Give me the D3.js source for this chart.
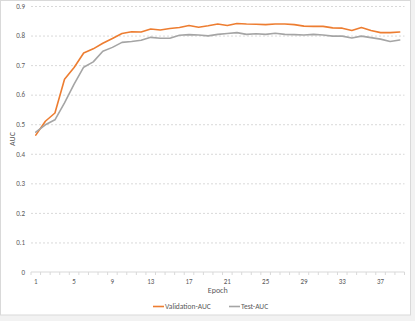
<!DOCTYPE html>
<html>
<head>
<meta charset="utf-8">
<script src="https://cdn.jsdelivr.net/npm/d3@7"></script>
<style>
  body { margin: 0; background: #f2f2f2; }
  text { font-family: Calibri, Carlito, "Liberation Sans", Arial, sans-serif; }
</style>
</head>
<body>
<svg id="chart"></svg>
<script>
var epochs = d3.range(1, 40);
var validationAUC = [0.463, 0.51, 0.538, 0.652, 0.692, 0.741, 0.755, 0.774, 0.79, 0.807,
  0.813, 0.812, 0.822, 0.819, 0.824, 0.827, 0.834, 0.828, 0.833, 0.839,
  0.834, 0.841, 0.839, 0.838, 0.837, 0.839, 0.839, 0.837, 0.832, 0.831,
  0.831, 0.826, 0.825, 0.817, 0.827, 0.817, 0.81, 0.81, 0.812];
var testAUC = [0.473, 0.498, 0.515, 0.572, 0.636, 0.693, 0.711, 0.747, 0.76, 0.777,
  0.78, 0.784, 0.794, 0.791, 0.791, 0.801, 0.803, 0.802, 0.799, 0.804,
  0.807, 0.81, 0.804, 0.806, 0.804, 0.808, 0.804, 0.803, 0.802, 0.804,
  0.802, 0.798, 0.798, 0.792, 0.798, 0.793, 0.788, 0.78, 0.785];
var yTicks = [0, 0.1, 0.2, 0.3, 0.4, 0.5, 0.6, 0.7, 0.8, 0.9];
var series = [
  { name: "Validation-AUC", values: validationAUC, color: "#ED7D31" },
  { name: "Test-AUC", values: testAUC, color: "#A5A5A5" }
];

var svgWidth = 415, svgHeight = 321;
var plotLeft = 31, plotRight = 404.5, plotTop = 6, plotBottom = 272;

var svg = d3.select("#chart").attr("width", svgWidth).attr("height", svgHeight);

svg.append("rect")
  .attr("x", 0.5).attr("y", 0.5)
  .attr("width", 410).attr("height", 314.5)
  .attr("fill", "#fff").attr("stroke", "#d9d9d9");

var x = d3.scaleBand().domain(epochs).range([plotLeft, plotRight]);
var y = d3.scaleLinear().domain([0, 0.9]).range([plotBottom, plotTop]);

// grid + y labels
svg.append("g")
  .attr("transform", "translate(" + plotLeft + ",0)")
  .call(d3.axisLeft(y).tickValues(yTicks).tickSize(-(plotRight - plotLeft)).tickPadding(6)
    .tickFormat(function (d) { return d === 0 ? "0" : d3.format(".1f")(d); }))
  .call(function (g) {
    g.select(".domain").remove();
    g.selectAll(".tick line")
      .attr("stroke", function (d) { return d === 0 ? "none" : "#d9d9d9"; })
      .attr("stroke-dasharray", "2 2");
    g.selectAll(".tick text").attr("fill", "#595959").style("font-size", "7px");
  });

// x axis
var xAxisG = svg.append("g")
  .attr("transform", "translate(0," + plotBottom + ")");
xAxisG.append("line")
  .attr("x1", plotLeft).attr("x2", plotRight)
  .attr("stroke", "#d9d9d9");
xAxisG.selectAll(".minor")
  .data(epochs.concat([40]))
  .enter()
  .append("line")
  .attr("x1", function (d) { return d === 40 ? plotRight : x(d); })
  .attr("x2", function (d) { return d === 40 ? plotRight : x(d); })
  .attr("y1", 0).attr("y2", 3)
  .attr("stroke", "#d9d9d9");
xAxisG.selectAll(".lbl")
  .data(epochs.filter(function (d) { return (d - 1) % 4 === 0; }))
  .enter()
  .append("text")
  .attr("x", function (d) { return x(d) + x.bandwidth() / 2; })
  .attr("y", 12)
  .attr("text-anchor", "middle")
  .attr("fill", "#595959")
  .style("font-size", "7px")
  .text(function (d) { return d; });

svg.append("text")
  .attr("x", (plotLeft + plotRight) / 2)
  .attr("y", 293)
  .attr("text-anchor", "middle")
  .attr("fill", "#595959")
  .style("font-size", "8px")
  .text("Epoch");

svg.append("text")
  .attr("transform", "translate(15," + (plotTop + plotBottom) / 2 + ") rotate(-90)")
  .attr("text-anchor", "middle")
  .attr("fill", "#595959")
  .style("font-size", "8px")
  .text("AUC");

var line = d3.line()
  .x(function (d, i) { return x(epochs[i]) + x.bandwidth() / 2; })
  .y(function (d) { return y(d); });

svg.selectAll(".series")
  .data(series)
  .enter()
  .append("path")
  .attr("d", function (s) { return line(s.values); })
  .attr("fill", "none")
  .attr("stroke", function (s) { return s.color; })
  .attr("stroke-width", 1.6)
  .attr("stroke-linejoin", "round")
  .attr("stroke-linecap", "round");

// legend
var legend = svg.append("g").attr("transform", "translate(153,306.5)");
var legendX = [0, 76];
series.forEach(function (s, i) {
  var lg = legend.append("g").attr("transform", "translate(" + legendX[i] + ",0)");
  lg.append("line")
    .attr("x1", 0).attr("x2", 11)
    .attr("stroke", s.color).attr("stroke-width", 1.6);
  lg.append("text")
    .attr("x", 12).attr("y", 2.5)
    .attr("fill", "#595959")
    .style("font-size", "7.5px")
    .text(s.name);
});
</script>
</body>
</html>
